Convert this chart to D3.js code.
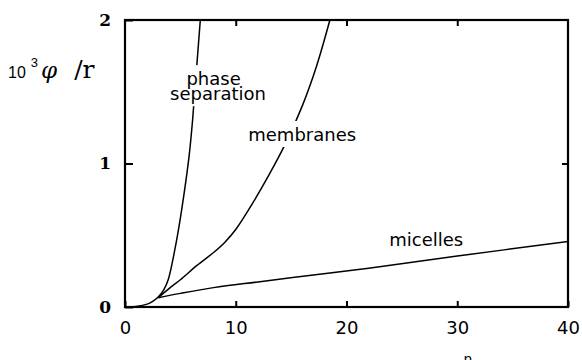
<!DOCTYPE html>
<html>
    <head>
        <style>
            body { margin: 0; background: #fff; }
            .curve { fill: none; stroke: #000; stroke-width: 1.5px; }
            .frame { fill: none; stroke: #000; stroke-width: 2.2px; }
            .tick line { stroke: #000; stroke-width: 2px; }
            .axis path { display: none; }
            .xlab text { font: 18px "DejaVu Sans"; }
            .ylab text { font: bold 17px "DejaVu Serif"; }
            .lbl { font: 18px "DejaVu Sans"; fill: #000; }
        </style>
    <script src="https://d3js.org/d3.v7.min.js"></script>
    <script>
        // values
        const phaseN = [0, 1, 2, 2.5, 3, 3.5, 3.9, 4.5, 5, 5.5, 5.8, 6.1, 6.4, 6.8];
        const phaseY = [0, 0.004, 0.02, 0.04, 0.07, 0.12, 0.19, 0.4, 0.62, 0.88, 1.06, 1.3, 1.6, 2.0];
        const membranesN = [3, 4, 5, 6.5, 8, 9, 10, 11.5, 13, 14.5, 16, 17.3, 18.5];
        const membranesY = [0.065, 0.13, 0.19, 0.29, 0.38, 0.45, 0.54, 0.72, 0.92, 1.14, 1.4, 1.68, 2.0];
        const micellesN = [3, 5, 8, 12, 18.5, 22, 30, 40];
        const micellesY = [0.065, 0.095, 0.135, 0.175, 0.237, 0.27, 0.355, 0.456];
        const xTicks = [0, 10, 20, 30, 40];
        const yTicks = [0, 1, 2];

        function draw () {
            width = 582;
            height = 360;
            var left = 125, top = 20, right = 568, bottom = 307;

            var svg = d3.select('body').append('svg')
                .attr('width', width)
                .attr('height', height);

            var x = d3.scaleLinear().domain([0, 40]).range([left, right]);
            var y = d3.scaleLinear().domain([0, 2]).range([bottom, top]);

            var line = d3.line()
                .x(function(d) { return x(d[0]); })
                .y(function(d) { return y(d[1]); })
                .curve(d3.curveCatmullRom.alpha(0.5));

            var series = [
                d3.zip(phaseN, phaseY),
                d3.zip(membranesN, membranesY),
                d3.zip(micellesN, micellesY)
            ];
            svg.selectAll('.curve').data(series).enter()
                .append('path')
                .attr('class', 'curve')
                .attr('d', line);

            // labels with a white box that cuts the curve
            var labels = [
                {t: 'phase', n: 8.0, v: 1.546, cut: true},
                {t: 'separation', n: 8.4, v: 1.441, cut: true},
                {t: 'membranes', n: 16.0, v: 1.157, cut: true},
                {t: 'micelles', n: 27.2, v: 0.425, cut: false}
            ];
            var boxes = svg.append('g');
            var texts = svg.append('g');
            texts.selectAll('text').data(labels).enter()
                .append('text')
                .attr('class', 'lbl')
                .attr('text-anchor', 'middle')
                .attr('x', function(d) { return x(d.n); })
                .attr('y', function(d) { return y(d.v); })
                .text(function(d) { return d.t; })
                .each(function(d) {
                    if (!d.cut) return;
                    var b = this.getBBox();
                    boxes.append('rect')
                        .attr('fill', '#fff')
                        .attr('x', b.x - 2).attr('y', b.y - 3)
                        .attr('width', b.width + 4).attr('height', b.height + 5);
                });

            // frame
            svg.append('rect')
                .attr('class', 'frame')
                .attr('x', left).attr('y', top)
                .attr('width', right - left).attr('height', bottom - top);

            // bottom axis with labels, ticks pointing in
            svg.append('g')
                .attr('class', 'axis xlab')
                .attr('transform', 'translate(0,' + bottom + ')')
                .call(d3.axisBottom(x).tickValues(xTicks).tickSizeInner(-6).tickSizeOuter(0).tickPadding(14));
            svg.append('g')
                .attr('class', 'axis')
                .attr('transform', 'translate(0,' + top + ')')
                .call(d3.axisTop(x).tickValues([10, 20, 30]).tickSizeInner(-6).tickSizeOuter(0).tickFormat(''));
            svg.append('g')
                .attr('class', 'axis ylab')
                .attr('transform', 'translate(' + left + ',0)')
                .call(d3.axisLeft(y).tickValues(yTicks).tickSizeInner(-8).tickSizeOuter(0).tickPadding(14).tickFormat(d3.format('d')));
            svg.append('g')
                .attr('class', 'axis')
                .attr('transform', 'translate(' + right + ',0)')
                .call(d3.axisRight(y).tickValues([1]).tickSizeInner(-6).tickSizeOuter(0).tickFormat(''));

            // y axis title: 10^3 phi / r
            var yt = svg.append('text').attr('x', 8).attr('y', 78);
            yt.append('tspan').style('font', '16px "Liberation Sans"').text('10');
            yt.append('tspan').attr('dx', 5).attr('dy', -11).style('font', '13px "Liberation Sans"').text('3');
            yt.append('tspan').attr('dx', 3).attr('dy', 11).style('font', 'italic 23px "DejaVu Serif"').text('φ');
            yt.append('tspan').attr('dx', 17).style('font', '25px "DejaVu Serif"').text('/r');

            // x axis title, cut by the bottom edge
            svg.append('text')
                .attr('x', 468).attr('y', 364)
                .attr('text-anchor', 'middle')
                .style('font', '14px "DejaVu Sans"')
                .text('n');
        }
    </script>
    </head>
    <body onload="draw()">
    </body>
</html>
